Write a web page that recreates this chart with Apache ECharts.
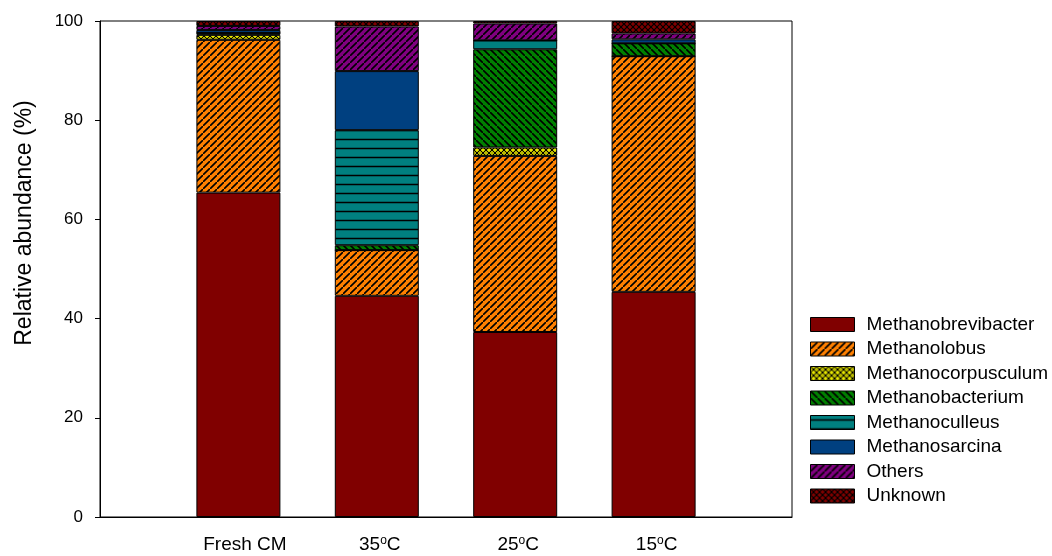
<!DOCTYPE html>
<html>
<head>
<meta charset="utf-8">
<script src="https://cdn.jsdelivr.net/npm/echarts@6/dist/echarts.min.js"></script>
<style>
html,body{margin:0;padding:0;background:#fff;}
#chart{width:1052px;height:556px;}
</style>
</head>
<body>
<div id="chart"></div>
<script>
// ---- data ----
const categories = ['Fresh CM', '35{s|o}C', '25{s|o}C', '15{s|o}C'];
const seriesNames = ['Methanobrevibacter','Methanolobus','Methanocorpusculum','Methanobacterium','Methanoculleus','Methanosarcina','Others','Unknown'];
const methanobrevibacter = [65.4, 44.6, 37.3, 45.4];
const methanolobus       = [30.8,  9.2, 35.5, 47.5];
const methanocorpusculum = [ 1.0,  0.0,  1.7,  0.0];
const methanobacterium   = [ 0.4,  1.0, 19.8,  2.6];
const methanoculleus     = [ 0.0, 23.2,  1.8,  0.0];
const methanosarcina     = [ 0.6, 11.9,  0.0,  0.8];
const others             = [ 0.8,  9.0,  3.4,  1.2];
const unknown            = [ 1.0,  1.1,  0.5,  2.5];
const yTicks = [0, 20, 40, 60, 80, 100];

const seriesValues = [methanobrevibacter, methanolobus, methanocorpusculum, methanobacterium, methanoculleus, methanosarcina, others, unknown];

// ---- patterns ----
function makeTile(w, h, bg, draw) {
  const c = document.createElement('canvas');
  c.width = w; c.height = h;
  const ctx = c.getContext('2d');
  ctx.fillStyle = bg; ctx.fillRect(0, 0, w, h);
  ctx.strokeStyle = '#000';
  draw(ctx, w, h);
  return { image: c, repeat: 'repeat' };
}
function fwd(ctx, s, lw) {
  ctx.lineWidth = lw;
  ctx.beginPath();
  ctx.moveTo(-1, s + 1); ctx.lineTo(s + 1, -1);
  ctx.moveTo(-2, 1); ctx.lineTo(1, -2);
  ctx.moveTo(s - 1, s + 2); ctx.lineTo(s + 2, s - 1);
  ctx.stroke();
}
function back(ctx, s, lw) {
  ctx.lineWidth = lw;
  ctx.beginPath();
  ctx.moveTo(-1, -1); ctx.lineTo(s + 1, s + 1);
  ctx.moveTo(-2, s - 1); ctx.lineTo(1, s + 2);
  ctx.moveTo(s - 1, -2); ctx.lineTo(s + 2, 1);
  ctx.stroke();
}
const fills = [
  '#800000',
  makeTile(7, 7, '#FF8000', (c, w) => fwd(c, w, 1.6)),
  makeTile(6, 6, '#B8B800', (c, w) => { fwd(c, w, 1); back(c, w, 1); c.fillStyle = '#E8E800'; c.beginPath(); c.arc(3, 0, 1.2, 0, 2*Math.PI); c.fill(); c.beginPath(); c.arc(3, 6, 1.2, 0, 2*Math.PI); c.fill(); }),
  makeTile(7, 7, '#008000', (c, w) => back(c, w, 1.6)),
  makeTile(4, 9, '#008080', (c, w) => { c.lineWidth = 1.5; c.beginPath(); c.moveTo(0, 4.5); c.lineTo(w, 4.5); c.stroke(); }),
  '#004080',
  makeTile(7, 7, '#800080', (c, w) => fwd(c, w, 1.6)),
  makeTile(6, 6, '#800000', (c, w) => { fwd(c, w, 1.2); back(c, w, 1.2); })
];

const axisCats = [''].concat(categories, ['']);

const series = seriesNames.map((name, i) => ({
  name: name,
  type: 'bar',
  stack: 'total',
  barWidth: 84,
  data: [null].concat(seriesValues[i], [null]),
  itemStyle: { color: fills[i], borderColor: '#000', borderWidth: 1 },
  emphasis: { disabled: true },
  animation: false
}));

const chart = echarts.init(document.getElementById('chart'), null, { renderer: 'canvas' });
chart.setOption({
  animation: false,
  backgroundColor: '#fff',
  textStyle: { fontFamily: 'Liberation Sans, Arial, sans-serif', color: '#000' },
  grid: { left: 100, right: 260, top: 21, bottom: 39, show: true, borderColor: '#000', borderWidth: 1 },
  xAxis: {
    type: 'category',
    data: axisCats,
    boundaryGap: false,
    axisLine: { lineStyle: { color: '#000', width: 1 } },
    axisTick: { show: false },
    axisLabel: {
      interval: 0, margin: 18, color: '#000', fontSize: 19, padding: [0, 0, 0, 6],
      formatter: v => (v.indexOf('{') < 0 && v ? '{f|' + v + '}' : v),
      rich: {
        s: { fontSize: 12, verticalAlign: 'top', color: '#000' },
        f: { fontSize: 19, color: '#000', padding: [0, 0, 4, 7] }
      }
    },
    splitLine: { show: false }
  },
  yAxis: {
    type: 'value',
    min: 0, max: 100, interval: 20,
    axisLine: { show: true, lineStyle: { color: '#000', width: 1 } },
    axisTick: { show: true, length: 5, lineStyle: { color: '#000' } },
    axisLabel: { color: '#000', fontSize: 17, margin: 17,
      formatter: v => (yTicks.indexOf(v) >= 0 ? String(v) : '') },
    splitLine: { show: false }
  },
  legend: {
    orient: 'vertical',
    left: 810, top: 315,
    padding: 0,
    itemWidth: 44, itemHeight: 14, itemGap: 5.5,
    icon: 'rect',
    selectedMode: false,
    itemStyle: { borderColor: '#000', borderWidth: 1 },
    textStyle: { fontSize: 19, color: '#000', padding: [0, 0, 0, 7] },
    data: seriesNames
  },
  graphic: [{
    type: 'text',
    x: 25, y: 223,
    rotation: Math.PI / 2,
    style: { text: 'Relative abundance (%)', fontSize: 23, fill: '#000', fontFamily: 'Liberation Sans, Arial, sans-serif', align: 'center', verticalAlign: 'middle' }
  }],
  series: series
});
</script>
</body>
</html>
